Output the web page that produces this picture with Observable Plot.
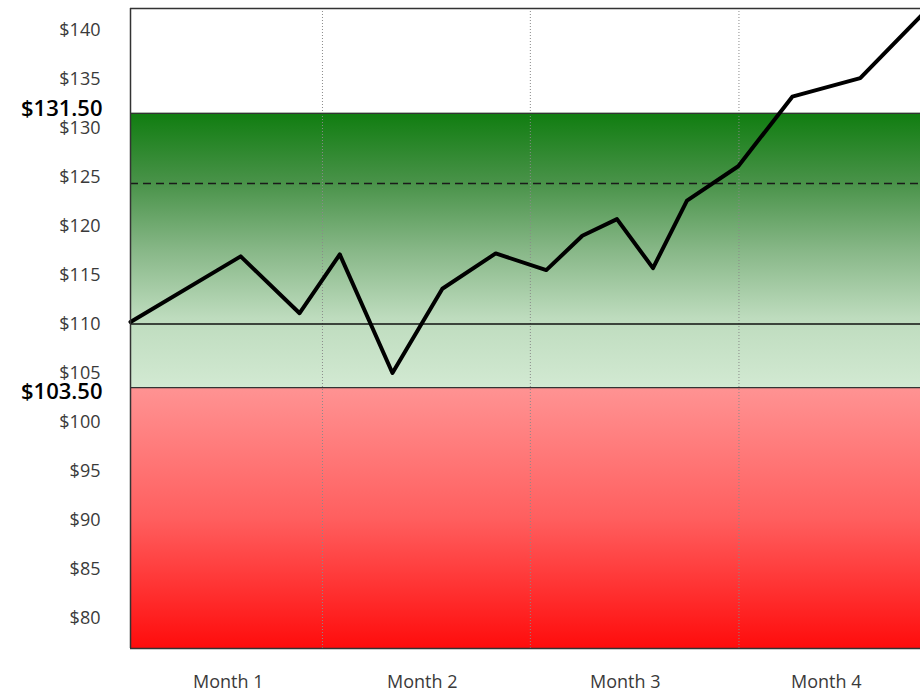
<!DOCTYPE html>
<html>
<head>
<meta charset="utf-8">
<script src="https://cdn.jsdelivr.net/npm/d3@7"></script>
<script src="https://cdn.jsdelivr.net/npm/@observablehq/plot@0.6"></script>
<style>
  html, body { margin: 0; padding: 0; background: white; }
  #chart { width: 920px; height: 692px; }
</style>
</head>
<body>
<div id="chart"></div>
<script>
// ---- data ----
const days   = [0, 15.9, 24.4, 30.2, 37.8, 45.0, 52.7, 60.0, 65.2, 70.2, 75.4, 80.3, 87.7, 95.5, 105.3, 114];
const prices = [110.2, 116.9, 111.1, 117.1, 105.0, 113.6, 117.2, 115.5, 119.0, 120.7, 115.7, 122.6, 126.1, 133.2, 135.1, 141.4];
const monthNames = ["Month 1", "Month 2", "Month 3", "Month 4"];
const monthLabelPos = [14.1, 42.1, 71.4, 100.4];
const monthBounds = [27.7, 57.7, 87.8];
const yTicks = [80, 85, 90, 95, 100, 105, 110, 115, 120, 125, 130, 135, 140];
const upperLimit = 131.5;
const lowerLimit = 103.5;
const baseline = 110;
const targetLine = 124.35;
const xDomain = [0, 114];
const yDomain = [76.88, 142.2];

const series = days.map((d, i) => ({day: d, price: prices[i]}));

const svg = Plot.plot({
  width: 920,
  height: 692,
  marginLeft: 130,
  marginRight: 0,
  marginTop: 8,
  marginBottom: 44,
  style: {fontFamily: "'Open Sans', sans-serif", fontSize: "18px", color: "#3a3a3a", background: "white"},
  x: {
    domain: xDomain,
    ticks: monthLabelPos,
    tickFormat: d => monthNames[monthLabelPos.indexOf(d)],
    tickSize: 0,
    tickPadding: 27,
    label: null
  },
  y: {
    domain: yDomain,
    ticks: yTicks,
    tickFormat: d => "$" + d,
    tickSize: 0,
    tickPadding: 30,
    label: null
  },
  marks: [
    Plot.rect([{lo: lowerLimit, hi: upperLimit}], {
      x1: () => xDomain[0], x2: () => xDomain[1], y1: "lo", y2: "hi", fill: "url(#gGreen)"
    }),
    Plot.rect([{lo: yDomain[0], hi: lowerLimit}], {
      x1: () => xDomain[0], x2: () => xDomain[1], y1: "lo", y2: "hi", fill: "url(#gRed)"
    }),
    Plot.ruleX(monthBounds, {stroke: "#8a8a8a", strokeWidth: 1, strokeDasharray: "1,2"}),
    Plot.ruleY([upperLimit, lowerLimit], {stroke: "#333", strokeWidth: 1.3}),
    Plot.ruleY([baseline], {stroke: "#111", strokeWidth: 1.3}),
    Plot.ruleY([targetLine], {stroke: "#1a1a1a", strokeWidth: 1.5, strokeDasharray: "8,5"}),
    Plot.line(series, {x: "day", y: "price", stroke: "black", strokeWidth: 4}),
    Plot.ruleY([yDomain[1], yDomain[0]], {stroke: "#333", strokeWidth: 1.5}),
    Plot.ruleX([xDomain[0]], {stroke: "#333", strokeWidth: 1.5}),
    Plot.text([upperLimit], {
      x: () => xDomain[0], y: d => d, text: d => "$" + d.toFixed(2),
      textAnchor: "end", dx: -28, dy: -4, fontSize: 22, fontWeight: 600, fill: "black"
    }),
    Plot.text([lowerLimit], {
      x: () => xDomain[0], y: d => d, text: d => "$" + d.toFixed(2),
      textAnchor: "end", dx: -28, dy: 4, fontSize: 22, fontWeight: 600, fill: "black"
    })
  ]
});

const defs = d3.select(svg).insert("defs", ":first-child");
const g1 = defs.append("linearGradient").attr("id", "gGreen")
  .attr("x1", 0).attr("y1", 0).attr("x2", 0).attr("y2", 1);
[[0, "rgb(16,125,16)"], [0.25, "rgb(72,146,72)"], [0.5, "rgb(135,183,135)"], [0.75, "rgb(190,220,190)"], [1, "rgb(210,233,210)"]]
  .forEach(([o, c]) => g1.append("stop").attr("offset", o).attr("stop-color", c));
const g2 = defs.append("linearGradient").attr("id", "gRed")
  .attr("x1", 0).attr("y1", 0).attr("x2", 0).attr("y2", 1);
[[0, "rgb(255,147,147)"], [0.5, "rgb(255,95,95)"], [1, "rgb(255,12,12)"]]
  .forEach(([o, c]) => g2.append("stop").attr("offset", o).attr("stop-color", c));

document.getElementById("chart").appendChild(svg);
</script>
</body>
</html>
